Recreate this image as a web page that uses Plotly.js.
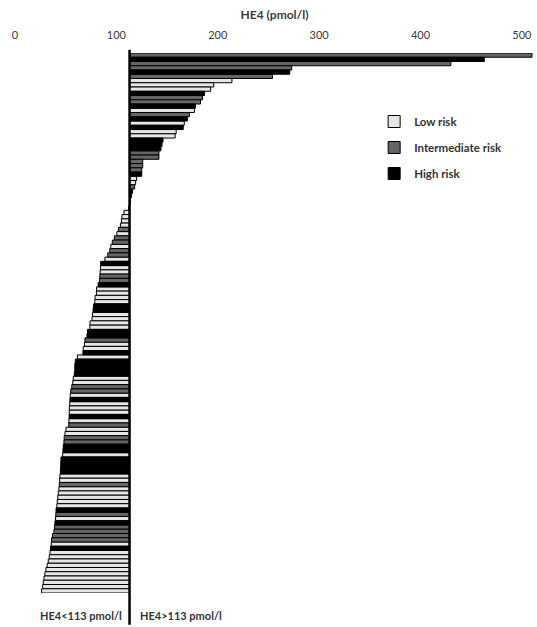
<!DOCTYPE html>
<html>
<head>
<meta charset="utf-8">
<script src="https://cdn.plot.ly/plotly-3.0.1.min.js"></script>
<style>
  html, body { margin: 0; padding: 0; background: #ffffff; }
  #chart { width: 537px; height: 627px; }
</style>
</head>
<body>
<div id="chart"></div>
<script>
// HE4 per patient (pmol/l), ranked from highest to lowest
const he4 = [
  510, 463, 430, 273, 271, 254, 214, 196, 193, 187,
  185, 183, 178, 177, 172, 170, 167, 166, 159, 158,
  146, 145, 144, 142, 142, 126, 126, 125, 125, 120,
  119, 118, 116, 115, 114, 113.5, 112,
  107.5, 105.5, 105, 104, 102, 100.5, 98, 96, 94.5, 93.5,
  91.5, 88.7, 84.5, 84.3, 84, 83.7, 83.3, 82, 80.5, 80.3,
  79, 78.7, 77.5, 77, 76.5, 76, 74, 73.8,
  71.5, 71, 69, 68.5, 67.3, 67, 61.5, 59.5, 59, 59,
  58.5, 57.5, 57, 56, 55, 54.5, 54.2, 54, 53.6, 53.5,
  53.4, 53.2, 53, 50.3, 49.3, 48.5, 48.3, 47.6, 47.3, 47,
  45.3, 45.2, 45, 44.8, 44.3, 44, 43.7, 43.3, 42.7, 42.2,
  41.7, 41.3, 40.5, 40.3, 40, 39.4, 39, 38.4, 37, 36,
  35.8, 35, 34.5, 33.8, 32.8, 31.8, 30.5, 29.5, 28.6, 27.9,
  27.3, 26.3
];

// Risk group of each patient: L = low, I = intermediate, H = high
const risk = [
  'I','H','I','I','H','I','L','L','L','H',
  'I','I','H','L','I','H','L','H','L','L',
  'H','H','H','I','I','I','I','I','H','L',
  'L','I','H','H','H','H','H',
  'L','L','L','L','I','L','I','I','L','I',
  'I','L','H','L','L','I','I','H','L','L',
  'L','L','H','H','L','L','L','L',
  'H','H','I','L','L','H','L','H','H','H',
  'H','L','L','I','I','L','H','L','L','L',
  'H','L','I','L','L','I','I','H','H','L',
  'H','H','H','H','L','L','I','L','L','L',
  'L','L','H','I','L','H','I','I','I','I',
  'L','H','L','L','L','L','L','L','L','L',
  'L','L'
];

const riskCodes = ['L', 'I', 'H'];
const riskNames = ['Low risk', 'Intermediate risk', 'High risk'];
const riskFills = ['#e6e6e6', '#656565', '#000000'];

const cutoff = 113;              // HE4 threshold (pmol/l)
const xTicks = [0, 100, 200, 300, 400, 500];
const n = he4.length;

// One trace per risk group; each bar runs from the cutoff to the patient's value
const traces = riskCodes.map((code, k) => {
  const idx = he4.map((v, i) => i).filter(i => risk[i] === code);
  return {
    type: 'bar',
    orientation: 'h',
    name: riskNames[k],
    legendgroup: code,
    y: idx,
    x: idx.map(i => he4[i] - cutoff),
    base: cutoff,
    width: 1,
    marker: { color: riskFills[k], line: { color: '#000000', width: 1 } },
    hoverinfo: 'skip'
  };
});

const textFont = { family: 'Lato, "Open Sans", sans-serif', color: '#3a3a3a' };

const layout = {
  width: 537,
  height: 627,
  margin: { l: 15, r: 3, t: 53, b: 34 },
  paper_bgcolor: '#ffffff',
  plot_bgcolor: '#ffffff',
  barmode: 'overlay',
  bargap: 0,
  font: textFont,
  showlegend: true,
  xaxis: {
    side: 'top',
    range: [0, 512],
    tickvals: xTicks,
    ticktext: xTicks.map(String),
    ticks: 'outside',
    ticklen: 9,
    tickcolor: 'rgba(0,0,0,0)',
    tickfont: { size: 11, color: '#3a3a3a' },
    showgrid: false,
    zeroline: false,
    showline: false,
    fixedrange: true,
    title: { text: 'HE4 (pmol/l)', font: { size: 12, weight: 'bold', color: '#3a3a3a' }, standoff: 5 }
  },
  yaxis: {
    range: [n - 0.5, -0.5],
    showticklabels: false,
    showgrid: false,
    zeroline: false,
    showline: false,
    ticks: '',
    fixedrange: true
  },
  legend: {
    x: 0.692,
    y: 0.9,
    xanchor: 'left',
    yanchor: 'top',
    bgcolor: 'rgba(0,0,0,0)',
    tracegroupgap: 7,
    font: { size: 11.5, weight: 'bold', color: '#333333' }
  },
  shapes: [{
    type: 'line',
    xref: 'x', yref: 'paper',
    x0: cutoff, x1: cutoff,
    y0: -0.059, y1: 1.006,
    line: { color: '#000000', width: 2.5 }
  }],
  annotations: [
    {
      xref: 'x', yref: 'paper', x: cutoff, y: -0.042,
      xanchor: 'right', yanchor: 'middle', xshift: -6,
      text: 'HE4<113 pmol/l', showarrow: false,
      font: { size: 11, weight: 'bold', color: '#333333' }
    },
    {
      xref: 'x', yref: 'paper', x: cutoff, y: -0.042,
      xanchor: 'left', yanchor: 'middle', xshift: 8,
      text: 'HE4>113 pmol/l', showarrow: false,
      font: { size: 11, weight: 'bold', color: '#333333' }
    }
  ]
};

Plotly.newPlot('chart', traces, layout, { displayModeBar: false, staticPlot: true });
</script>
</body>
</html>
